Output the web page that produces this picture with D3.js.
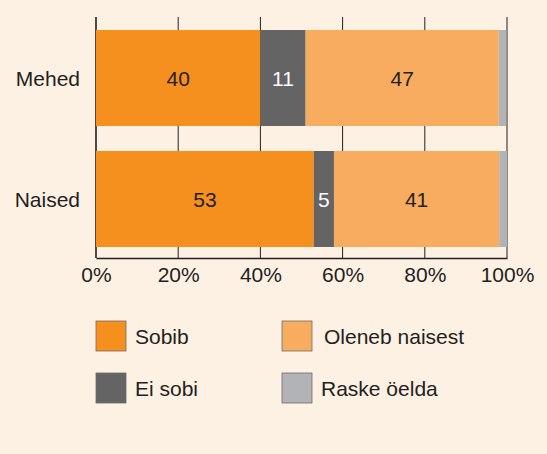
<!DOCTYPE html>
<html>
<head>
<meta charset="utf-8">
<script src="https://cdn.jsdelivr.net/npm/d3@7"></script>
<style>
  body { margin: 0; background: #fdf1e4; }
  svg { display: block; font-family: "Liberation Sans", Arial, sans-serif; }
</style>
</head>
<body>
<div id="chart"></div>
<script>
// data
const groups = ["Mehed", "Naised"];
const seriesNames = ["Sobib", "Ei sobi", "Oleneb naisest", "Raske öelda"];
const meheValues = [40, 11, 47, 1.8];
const naisedValues = [53, 4.9, 40.2, 1.9];
const meheLabels = ["40", "11", "47", ""];
const naisedLabels = ["53", "5", "41", ""];
const tickValues = [0, 20, 40, 60, 80, 100];
const colors = ["#f5901f", "#646465", "#f8ac5f", "#b2b3b6"];
const labelColors = ["#231f20", "#ffffff", "#231f20", "#231f20"];

const W = 547, H = 454;
const margin = { top: 17, left: 96 };
const plotW = 507 - 96;
const plotBottom = 258;
const fontSize = 21;

const svg = d3.select("#chart").append("svg")
    .attr("width", W)
    .attr("height", H);

svg.append("rect").attr("width", W).attr("height", H).attr("fill", "#fdf1e4");

const x = d3.scaleLinear().domain([0, 100]).range([margin.left, margin.left + plotW]);
const y = d3.scaleBand().domain(groups).range([30, 247]).paddingInner(0.2066).paddingOuter(0);

// gridlines
svg.append("g")
    .selectAll("line")
    .data(tickValues)
    .join("line")
    .attr("x1", d => x(d)).attr("x2", d => x(d))
    .attr("y1", margin.top).attr("y2", plotBottom)
    .attr("stroke", "#231f20")
    .attr("stroke-width", d => d === 0 ? 1.6 : 1);

// stacked rows
const rows = [
    { group: "Mehed", values: meheValues, labels: meheLabels },
    { group: "Naised", values: naisedValues, labels: naisedLabels }
];

rows.forEach(row => {
    let acc = 0;
    const segs = row.values.map((v, i) => {
        const s = { x0: acc, x1: acc + v, i: i, label: row.labels[i] };
        acc += v;
        return s;
    });
    const g = svg.append("g");
    g.selectAll("rect")
        .data(segs)
        .join("rect")
        .attr("x", d => x(d.x0))
        .attr("width", d => x(d.x1) - x(d.x0))
        .attr("y", y(row.group))
        .attr("height", y.bandwidth())
        .attr("fill", d => colors[d.i]);
    g.selectAll("text")
        .data(segs)
        .join("text")
        .attr("x", d => (x(d.x0) + x(d.x1)) / 2)
        .attr("y", y(row.group) + y.bandwidth() / 2)
        .attr("dy", "0.36em")
        .attr("text-anchor", "middle")
        .attr("font-size", fontSize)
        .attr("fill", d => labelColors[d.i])
        .text(d => d.label);
});

// category labels
svg.append("g")
    .selectAll("text")
    .data(groups)
    .join("text")
    .attr("x", 80)
    .attr("y", d => y(d) + y.bandwidth() / 2)
    .attr("dy", "0.36em")
    .attr("text-anchor", "end")
    .attr("font-size", fontSize)
    .attr("fill", "#231f20")
    .text(d => d);

// bottom axis
const xAxis = d3.axisBottom(x)
    .tickValues(tickValues)
    .tickSize(0)
    .tickPadding(9)
    .tickFormat(d => d + "%");

const ax = svg.append("g")
    .attr("transform", "translate(0," + plotBottom + ")")
    .call(xAxis);
ax.select(".domain").attr("stroke", "#231f20").attr("stroke-width", 1.6);
ax.selectAll("text")
    .attr("font-size", fontSize)
    .attr("font-family", "Liberation Sans, Arial, sans-serif")
    .attr("fill", "#231f20");

// legend
const legendPos = [[96, 321], [96, 373], [282, 321], [282, 373]];
const legend = svg.append("g")
    .selectAll("g")
    .data(seriesNames)
    .join("g")
    .attr("transform", (d, i) => "translate(" + legendPos[i][0] + "," + legendPos[i][1] + ")");
legend.append("rect")
    .attr("width", 30).attr("height", 30)
    .attr("fill", (d, i) => colors[i])
    .attr("stroke", "#6d6a6a")
    .attr("stroke-width", 0.8);
legend.append("text")
    .attr("x", (d, i) => i === 2 ? 42 : 39)
    .attr("y", 15)
    .attr("dy", "0.36em")
    .attr("font-size", fontSize)
    .attr("fill", "#231f20")
    .text(d => d);
</script>
</body>
</html>
